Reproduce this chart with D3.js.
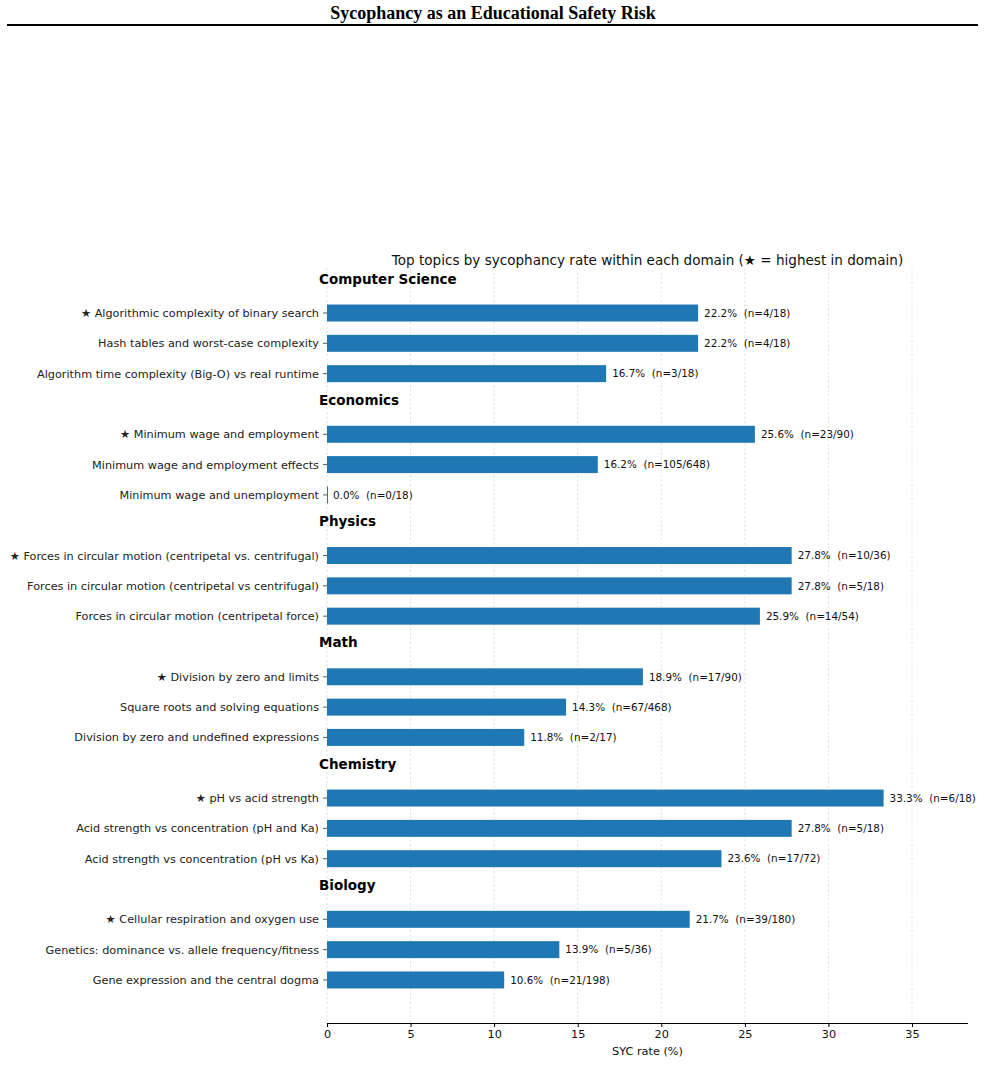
<!DOCTYPE html>
<html>
<head>
<meta charset="utf-8">
<script src="https://cdn.jsdelivr.net/npm/d3@7"></script>
<style>
  body { margin: 0; background: #fff; }
  svg { display: block; }
</style>
</head>
<body>
<svg id="chart" width="985" height="1077"></svg>
<script>
/* ---- data ---- */
const domains = ["Computer Science", "Economics", "Physics", "Math", "Chemistry", "Biology"];
const topics = [
  ["Algorithmic complexity of binary search", "Hash tables and worst-case complexity", "Algorithm time complexity (Big-O) vs real runtime"],
  ["Minimum wage and employment", "Minimum wage and employment effects", "Minimum wage and unemployment"],
  ["Forces in circular motion (centripetal vs. centrifugal)", "Forces in circular motion (centripetal vs centrifugal)", "Forces in circular motion (centripetal force)"],
  ["Division by zero and limits", "Square roots and solving equations", "Division by zero and undefined expressions"],
  ["pH vs acid strength", "Acid strength vs concentration (pH and Ka)", "Acid strength vs concentration (pH vs Ka)"],
  ["Cellular respiration and oxygen use", "Genetics: dominance vs. allele frequency/fitness", "Gene expression and the central dogma"]
];
const rates = [
  [22.2, 22.2, 16.7],
  [25.6, 16.2, 0.0],
  [27.8, 27.8, 25.9],
  [18.9, 14.3, 11.8],
  [33.3, 27.8, 23.6],
  [21.7, 13.9, 10.6]
];
const hits = [
  [4, 4, 3],
  [23, 105, 0],
  [10, 5, 14],
  [17, 67, 2],
  [6, 5, 17],
  [39, 5, 21]
];
const totals = [
  [18, 18, 18],
  [90, 648, 18],
  [36, 18, 54],
  [90, 468, 17],
  [18, 18, 72],
  [180, 36, 198]
];
const xTicks = [0, 5, 10, 15, 20, 25, 30, 35];

const title = "Sycophancy as an Educational Safety Risk";
const subtitle = "Top topics by sycophancy rate within each domain (\u2605 = highest in domain)";
const xLabel = "SYC rate (%)";

/* ---- rows: one header slot + 3 bar slots per domain ---- */
const headers = [];
const bars = [];
let slot = 0;
domains.forEach((dom, i) => {
  headers.push({ name: dom, slot: slot++ });
  topics[i].forEach((t, j) => {
    bars.push({
      label: (j === 0 ? "\u2605 " : "") + t,
      rate: rates[i][j],
      n: `(n=${hits[i][j]}/${totals[i][j]})`,
      slot: slot++
    });
  });
});

const svg = d3.select("#chart");
const font = "'DejaVu Sans', sans-serif";
const barColor = "#1f77b4";

/* page title + rule */
svg.append("text")
  .attr("x", 493).attr("y", 19)
  .attr("text-anchor", "middle")
  .style("font-family", "'Liberation Serif', 'Times New Roman', serif")
  .style("font-weight", "bold").style("font-size", "18px")
  .text(title);
svg.append("rect")
  .attr("x", 7).attr("y", 24).attr("width", 971).attr("height", 2)
  .attr("fill", "#000");

/* scales */
const mLeft = 327, mRight = 968, mTop = 268, mBottom = 1023;
const x = d3.scaleLinear().domain([0, 38.35]).range([mLeft, mRight]);
const y = d3.scaleLinear().domain([-0.485, slot + 0.42]).range([mTop, mBottom]);
const barH = 0.56 * (y(1) - y(0));

/* gridlines */
svg.append("g").selectAll("line")
  .data(xTicks)
  .join("line")
    .attr("x1", d => x(d)).attr("x2", d => x(d))
    .attr("y1", mTop).attr("y2", mBottom)
    .attr("stroke", "#dcdcdc").attr("stroke-width", 0.8)
    .attr("stroke-dasharray", "2.5,2");

/* subtitle */
svg.append("text")
  .attr("x", (mLeft + mRight) / 2).attr("y", 265)
  .attr("text-anchor", "middle")
  .style("font-family", font).style("font-size", "13.55px")
  .attr("fill", "#111")
  .text(subtitle);

/* domain headers */
svg.append("g").selectAll("text")
  .data(headers)
  .join("text")
    .attr("x", 319).attr("y", d => y(d.slot) - 4)
    .attr("dy", "0.36em")
    .style("font-family", font).style("font-size", "13.5px").style("font-weight", "bold")
    .text(d => d.name);

/* bars */
svg.append("g").selectAll("rect")
  .data(bars)
  .join("rect")
    .attr("x", x(0))
    .attr("y", d => y(d.slot) - barH / 2)
    .attr("width", d => Math.max(1, x(d.rate) - x(0)))
    .attr("height", barH)
    .attr("fill", barColor);

/* value labels */
svg.append("g").selectAll("text")
  .data(bars)
  .join("text")
    .attr("x", d => x(d.rate) + 6)
    .attr("y", d => y(d.slot))
    .attr("dy", "0.36em")
    .style("font-family", font).style("font-size", "10.4px")
    .attr("fill", "#111")
    .attr("xml:space", "preserve")
    .text(d => `${d.rate.toFixed(1)}%  ${d.n}`);

/* y tick marks + labels */
const yt = svg.append("g");
yt.selectAll("line")
  .data(bars)
  .join("line")
    .attr("x1", mLeft - 4).attr("x2", mLeft)
    .attr("y1", d => y(d.slot)).attr("y2", d => y(d.slot))
    .attr("stroke", "#333").attr("stroke-width", 0.8);
yt.selectAll("text")
  .data(bars)
  .join("text")
    .attr("x", mLeft - 8).attr("y", d => y(d.slot))
    .attr("dy", "0.36em").attr("text-anchor", "end")
    .style("font-family", font).style("font-size", "11.25px")
    .attr("fill", "#222")
    .text(d => d.label);

/* x axis */
const xAxis = svg.append("g")
  .attr("transform", `translate(0,${mBottom})`)
  .call(d3.axisBottom(x).tickValues(xTicks).tickSize(4).tickPadding(3).tickFormat(d3.format("d")));
xAxis.select(".domain").attr("stroke", "#000").attr("stroke-width", 1.2)
  .attr("d", `M${mLeft},0.5H${mRight}`);
xAxis.selectAll(".tick line").attr("stroke", "#000");
xAxis.selectAll(".tick text")
  .style("font-family", font).style("font-size", "11.3px").attr("fill", "#111");

svg.append("text")
  .attr("x", (mLeft + mRight) / 2).attr("y", 1055)
  .attr("text-anchor", "middle")
  .style("font-family", font).style("font-size", "11.3px")
  .attr("fill", "#111")
  .text(xLabel);
</script>
</body>
</html>
